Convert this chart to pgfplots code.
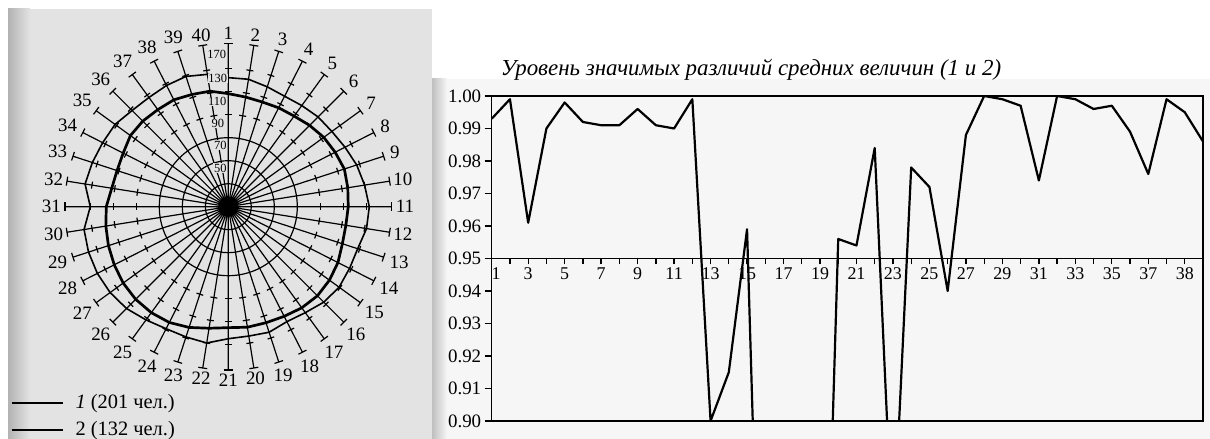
\documentclass[border=0pt]{standalone}
\usepackage{fontspec}
\setmainfont{Liberation Serif}
\usepackage{pgfplots}
\pgfplotsset{compat=1.18}
\usepgfplotslibrary{polar}
\usepackage{pgfplotstable}

\definecolor{scan}{gray}{0.89}
\definecolor{paper}{gray}{0.965}

% level of significant differences between means, point by point
\pgfplotstableread{
k lvl
1 0.993
2 0.999
3 0.961
4 0.990
5 0.998
6 0.992
7 0.991
8 0.991
9 0.996
10 0.991
11 0.990
12 0.999
13 0.900
14 0.915
15 0.959
16 0.770
17 0.780
18 0.800
19 0.770
20 0.956
21 0.954
22 0.984
23 0.860
24 0.978
25 0.972
26 0.940
27 0.988
28 1.000
29 0.999
30 0.997
31 0.974
32 1.000
33 0.999
34 0.996
35 0.997
36 0.989
37 0.976
38 0.999
39 0.995
40 0.986
}\levels

% profile of the two groups on the 40 spokes (row 41 closes the ring)
\pgfplotstableread{
k g1 g2
1 108.3 122.2
2 106.5 122.2
3 105.7 119.6
4 106.5 117.8
5 107.4 118.7
6 110.0 120.4
7 112.6 121.3
8 114.3 123.9
9 116.1 127.4
10 115.2 130.0
11 114.3 132.6
12 113.5 131.7
13 114.3 128.3
14 117.0 128.3
15 118.7 129.1
16 119.6 127.4
17 118.7 123.9
18 117.0 122.2
19 116.1 124.8
20 116.1 123.9
21 115.2 124.8
22 117.0 130.0
23 120.4 129.1
24 123.0 129.1
25 123.9 131.7
26 123.9 135.2
27 123.0 137.0
28 121.3 137.8
29 119.6 137.8
30 117.8 137.0
31 116.1 130.0
32 112.6 136.1
33 111.7 134.3
34 112.6 132.6
35 115.2 131.7
36 115.2 128.3
37 114.3 127.4
38 114.3 128.3
39 112.6 129.1
40 111.7 126.5
41 108.3 122.2
}\profile

\begin{document}
\begin{tikzpicture}[x=1bp,y=1bp]
\useasboundingbox (0,0) rectangle (1210,439);
% scanned page backgrounds
\fill[scan] (8,0) rectangle (432,430);
\shade[left color=gray!60, right color=scan] (8,0) rectangle (30,430);
\fill[paper] (432,0) rectangle (1210,360);
\shade[left color=gray!50, right color=paper] (432,0) rectangle (447,360);

\begin{polaraxis}[
  at={(228.3bp,232.3bp)}, anchor=center,
  scale only axis, width=326.6bp, height=326.6bp,
  ymin=0, ymax=142, clip=false,
  xtick={0,9,...,351},
  xticklabels={11,10,9,8,7,6,5,4,3,2,1,40,39,38,37,36,35,34,33,32,31,30,29,28,27,26,25,24,23,22,21,20,19,18,17,16,15,14,13,12},
  ytick={20,40,60}, yticklabels={},
  xmajorgrids, ymajorgrids,
  major grid style={black, line width=1.2bp},
  axis line style={draw=none},
  major tick length=0pt,
  xticklabel style={font=\fontsize{19}{19}\selectfont, inner sep=4bp},
]
\addplot[black, line width=2.7bp, line join=round] table[x expr={90-9*(\thisrow{k}-1)}, y expr={\thisrow{g1}-10}] \profile;
\addplot[black, line width=1.6bp, line join=round] table[x expr={90-9*(\thisrow{k}-1)}, y expr={\thisrow{g2}-10}] \profile;
\end{polaraxis}

% cross bars on the spokes and spoke end caps
\foreach \a in {0,9,...,351}{
  \begin{scope}[shift={(228.3,232.3)}, rotate=\a]
    \draw[line width=1.2bp] (163.3,-4.5) -- (163.3,4.5);
    \foreach \r in {92,115,138} \draw[line width=1.2bp] (\r,-3.5) -- (\r,3.5);
  \end{scope}
}
% radial scale
\begin{scope}[every node/.style={font=\fontsize{12.5}{12.5}\selectfont, fill=scan, inner sep=0.6bp}]
\node at (220.3,270.7) {50};
\node at (220.3,294.0) {70};
\node at (217.8,315.3) {90};
\node at (217.3,337.3) {110};
\node at (217.8,360.3) {130};
\node at (216.7,384.7) {170};
\end{scope}
% key
\draw[line width=2.7bp] (12,36) -- (63,36);
\draw[line width=1.6bp] (12,9) -- (63,9);
\node[anchor=base west, font=\fontsize{20.5}{20.5}\selectfont] at (72,30) {\textit{1} (201 чел.)};
\node[anchor=base west, font=\fontsize{20.5}{20.5}\selectfont] at (72,3) {2 (132 чел.)};

\begin{axis}[
  at={(491.7bp,18bp)}, anchor=south west,
  scale only axis, width=711.3bp, height=325bp,
  xmin=1, xmax=40, ymin=0.9, ymax=1,
  xtick=\empty,
  ytick={0.90,0.91,0.92,0.93,0.94,0.95,0.96,0.97,0.98,0.99,1.00},
  ytick pos=left, tick align=outside, major tick length=7bp,
  axis line style={line width=1.4bp},
  every tick/.style={black, line width=1.4bp},
  yticklabel style={font=\fontsize{19}{19}\selectfont,
    /pgf/number format/.cd, fixed, fixed zerofill, precision=2, assume math mode=true},
  title={Уровень значимых различий средних величин (\textit{1} и 2)},
  title style={font=\itshape\fontsize{23}{23}\selectfont, at={(axis description cs:0.3645,1)}, anchor=base, yshift=15bp},
]
\addplot[black, line width=2.2bp, line join=round] table[x=k, y=lvl] \levels;
\end{axis}

\begin{axis}[
  at={(491.7bp,180.5bp)}, anchor=south west,
  scale only axis, width=711.3bp, height=100bp,
  xmin=1, xmax=40, ymin=0, ymax=1,
  axis x line*=bottom, axis y line=none, ytick=\empty,
  xtick={1,...,39},
  xticklabels={\makebox[0pt][l]{1},,3,,5,,7,,9,,11,,13,,15,,17,,19,,21,,23,,25,,27,,29,,31,,33,,35,,37,,38},
  tick align=outside, major tick length=6bp,
  axis line style={line width=1.4bp},
  every tick/.style={black, line width=1.3bp},
  xticklabel style={font=\fontsize{18}{18}\selectfont},
]
\end{axis}
\end{tikzpicture}
\end{document}
